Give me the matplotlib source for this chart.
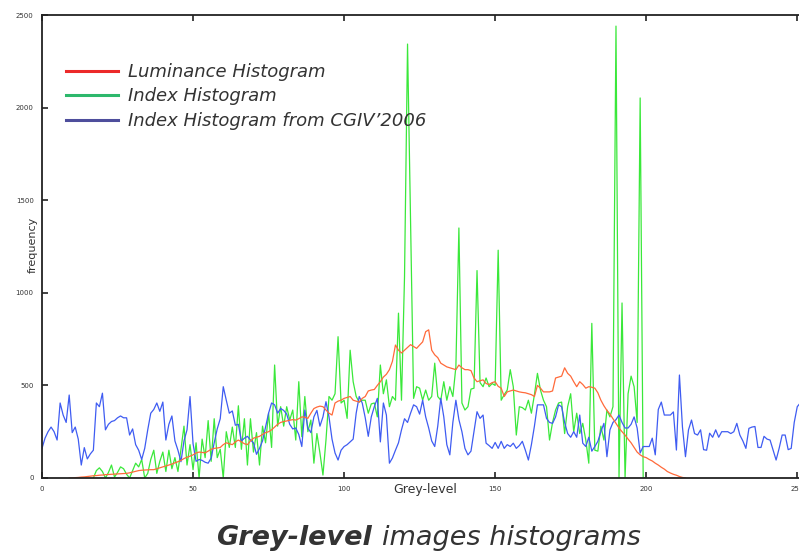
import matplotlib
matplotlib.use("Agg")
import matplotlib.pyplot as plt
from matplotlib.lines import Line2D
import numpy as np

# ── data ──────────────────────────────────────────────────────────────────────

BLUE_START = 0
blue_vals = [
    160, 215, 250, 275, 250, 205, 405, 340, 300, 448,   # 0-9
    245, 275, 210, 70, 164, 103, 130, 150, 405, 385,    # 10-19
    458, 260, 290, 305, 310, 325, 335, 325, 325, 232,   # 20-29
    265, 180, 150, 100, 160, 260, 350, 370, 405, 360,   # 30-39
    410, 205, 290, 335, 200, 150, 88, 200, 260, 440,    # 40-49
    185, 90, 100, 95, 85, 80, 108, 190, 265, 320,       # 50-59
    493, 420, 350, 362, 285, 290, 200, 215, 225, 205,   # 60-69
    190, 128, 160, 200, 275, 350, 405, 395, 350, 375,   # 70-79
    365, 345, 290, 265, 270, 235, 170, 367, 270, 245,   # 80-89
    330, 365, 280, 330, 412, 330, 210, 135, 97, 150,    # 90-99
    170, 180, 195, 210, 350, 440, 405, 325, 225, 330,   # 100-109
    385, 430, 195, 405, 340, 80, 108, 150, 190, 260,    # 110-119
    320, 300, 350, 395, 385, 345, 420, 330, 270, 200,   # 120-129
    170, 280, 430, 330, 180, 125, 300, 420, 315, 250,   # 130-139
    160, 125, 145, 250, 358, 322, 340, 188, 175, 160,   # 140-149
    192, 160, 198, 160, 180, 170, 188, 160, 175, 198,   # 150-159
    150, 97, 180, 280, 395, 395, 395, 322, 300, 295,    # 160-169
    330, 395, 385, 300, 240, 220, 250, 220, 340, 188,   # 170-179
    170, 220, 145, 170, 198, 250, 295, 115, 260, 300,   # 180-189
    315, 340, 300, 270, 270, 290, 330, 270, 135, 170,   # 190-199
    170, 170, 215, 125, 370, 410, 340, 340, 340, 357,   # 200-209
    151, 556, 275, 115, 260, 313, 240, 232, 260, 153,   # 210-219
    150, 242, 220, 260, 220, 250, 250, 250, 240, 250,   # 220-229
    295, 232, 200, 160, 268, 275, 278, 165, 165, 225,   # 230-239
    210, 205, 150, 97, 160, 232, 232, 153, 160, 300,    # 240-249
    385, 405,                                           # 250-251
]

RED_START = 9
red_vals = [
    0, 0, 2, 3, 5, 6, 8, 10, 12, 13,                    # 9-18
    15, 16, 18, 19, 20, 21, 22, 23, 24, 25,             # 19-28
    28, 32, 36, 40, 42, 43, 44, 45, 45, 50,             # 29-38
    55, 60, 65, 70, 75, 82, 88, 95, 105, 112,           # 39-48
    118, 125, 135, 140, 138, 136, 145, 155, 160, 162,   # 49-58
    165, 180, 190, 185, 180, 195, 205, 195, 185, 180,   # 59-68
    200, 215, 220, 225, 235, 245, 250, 260, 275, 290,   # 69-78
    300, 305, 308, 312, 315, 313, 320, 330, 328, 322,   # 79-88
    350, 375, 383, 388, 385, 367, 350, 340, 405, 415,   # 89-98
    420, 430, 435, 440, 420, 415, 410, 430, 440, 470,   # 99-108
    475, 478, 500, 520, 545, 560, 585, 630, 718, 690,   # 109-118
    675, 690, 705, 720, 710, 700, 718, 735, 790, 800,   # 119-128
    690, 665, 650, 620, 610, 600, 595, 590, 585, 610,   # 129-138
    595, 585, 585, 580, 540, 520, 525, 530, 510, 505,   # 139-148
    515, 520, 495, 485, 440, 465, 470, 475, 470, 465,   # 149-158
    462, 460, 455, 450, 440, 500, 485, 465, 465, 465,   # 159-168
    470, 540, 545, 550, 595, 565, 550, 520, 493, 520,   # 169-178
    505, 485, 493, 490, 485, 460, 420, 390, 365, 345,   # 179-188
    320, 295, 270, 250, 232, 210, 190, 165, 140, 125,   # 189-198
    115, 110, 100, 92, 80, 70, 58, 48, 35, 27,          # 199-208
    20, 15, 8, 3, 0,                                    # 209-213
]

GREEN_START = 17
green_vals = [
    0, 40, 55, 35, 0, 30, 70, 5, 30, 60,                # 17-26
    50, 20, 0, 40, 80, 60, 100, 0, 25, 100,             # 27-36
    150, 25, 90, 140, 35, 150, 50, 110, 35, 155,        # 37-46
    280, 70, 180, 45, 190, 0, 210, 110, 310, 90,        # 47-56
    320, 110, 155, 0, 250, 165, 275, 165, 390, 155,     # 57-66
    320, 70, 320, 140, 245, 70, 280, 190, 350, 165,     # 67-76
    610, 280, 385, 280, 385, 313, 367, 205, 520, 223,   # 77-86
    440, 250, 313, 80, 240, 135, 16, 205, 440, 420,     # 87-96
    455, 763, 405, 420, 322, 690, 520, 440, 410, 420,   # 97-106
    420, 350, 400, 405, 330, 610, 455, 530, 385, 440,   # 107-116
    420, 890, 420, 1087, 2343, 1393, 430, 493, 485, 420, # 117-126
    475, 420, 440, 620, 440, 420, 520, 420, 493, 440,   # 127-136
    600, 1350, 405, 367, 385, 480, 485, 1120, 515, 493, # 137-146
    540, 493, 510, 500, 1230, 420, 450, 475, 585, 493,  # 147-156
    232, 385, 380, 367, 420, 350, 450, 565, 475, 420,   # 157-166
    385, 205, 300, 367, 405, 410, 240, 385, 455, 250,   # 167-176
    350, 240, 295, 205, 80, 835, 150, 145, 280, 205,    # 177-186
    367, 330, 385, 2440, 0, 945, 0, 455, 550, 493,      # 187-196
    300, 2052, 0, 0,                                    # 197-200
]

X_TICKS = [0, 50, 100, 150, 200, 250]
Y_TICKS = [0, 500, 1000, 1500, 2000, 2500]
LABELS = ["Luminance Histogram", "Index Histogram", "Index Histogram from CGIV\u20192006"]

# plot colours vs. (slightly different) legend key colours, as in the source
LINE_COLORS = {"red": "#ff6a3a", "green": "#3ae83a", "blue": "#3f5cf2"}
KEY_COLORS = ["#ec2a2a", "#2db86c", "#4e4e9c"]
TXT = "#333333"


def xs(start, vals):
    return np.arange(start, start + len(vals))


# ── figure ────────────────────────────────────────────────────────────────────

W, H = 799, 553
fig = plt.figure(figsize=(W / 100, H / 100), dpi=100)

# axes: x=0 at px 42, x=250 at px ~797 (255 runs past the edge, like the source)
x0, x1 = 42, 42 + 3.021 * 255
y_top, y_bot = 15, 478
ax = fig.add_axes([x0 / W, 1 - y_bot / H, (x1 - x0) / W, (y_bot - y_top) / H])

ax.plot(xs(GREEN_START, green_vals), green_vals, color=LINE_COLORS["green"], lw=0.9)
ax.plot(xs(BLUE_START, blue_vals), blue_vals, color=LINE_COLORS["blue"], lw=0.9)
ax.plot(xs(RED_START, red_vals), red_vals, color=LINE_COLORS["red"], lw=0.9)

ax.set_xlim(0, 255)
ax.set_ylim(0, 2500)
ax.set_xticks(X_TICKS)
ax.set_yticks(Y_TICKS)
ax.tick_params(direction="in", length=4, width=1.2, colors="#222222",
               labelsize=5, labelcolor=TXT, top=True, right=True, pad=6)
for sp in ax.spines.values():
    sp.set_color("#222222")
    sp.set_linewidth(1.3)

# axis titles sit in odd places in the source (x label level with tick labels)
fig.text(425 / W, 1 - 490 / H, "Grey-level", fontsize=9, color=TXT,
         ha="center", va="center")
fig.text(33 / W, 1 - 245 / H, "frequency", fontsize=8, color=TXT,
         ha="center", va="center", rotation=90)

handles = [Line2D([], [], color=c, lw=2.2) for c in KEY_COLORS]
ax.legend(handles, LABELS, loc="upper left", frameon=False,
          bbox_to_anchor=(66 / W, 1 - 63 / H), bbox_transform=fig.transFigure,
          prop=dict(size=13, style="italic"), labelcolor=TXT,
          handlelength=2.9, handletextpad=0.55, labelspacing=0.36,
          borderpad=0, borderaxespad=0)

# caption: bold-italic first word, italic rest
fig.text(372 / W, 1 - 538 / H, "Grey-level", fontsize=19.5, fontweight="bold",
         style="italic", color=TXT, ha="right", va="center")
fig.text(382 / W, 1 - 538 / H, "images histograms", fontsize=19.5,
         style="italic", color=TXT, ha="left", va="center")

fig.savefig("out.png", dpi=100)
